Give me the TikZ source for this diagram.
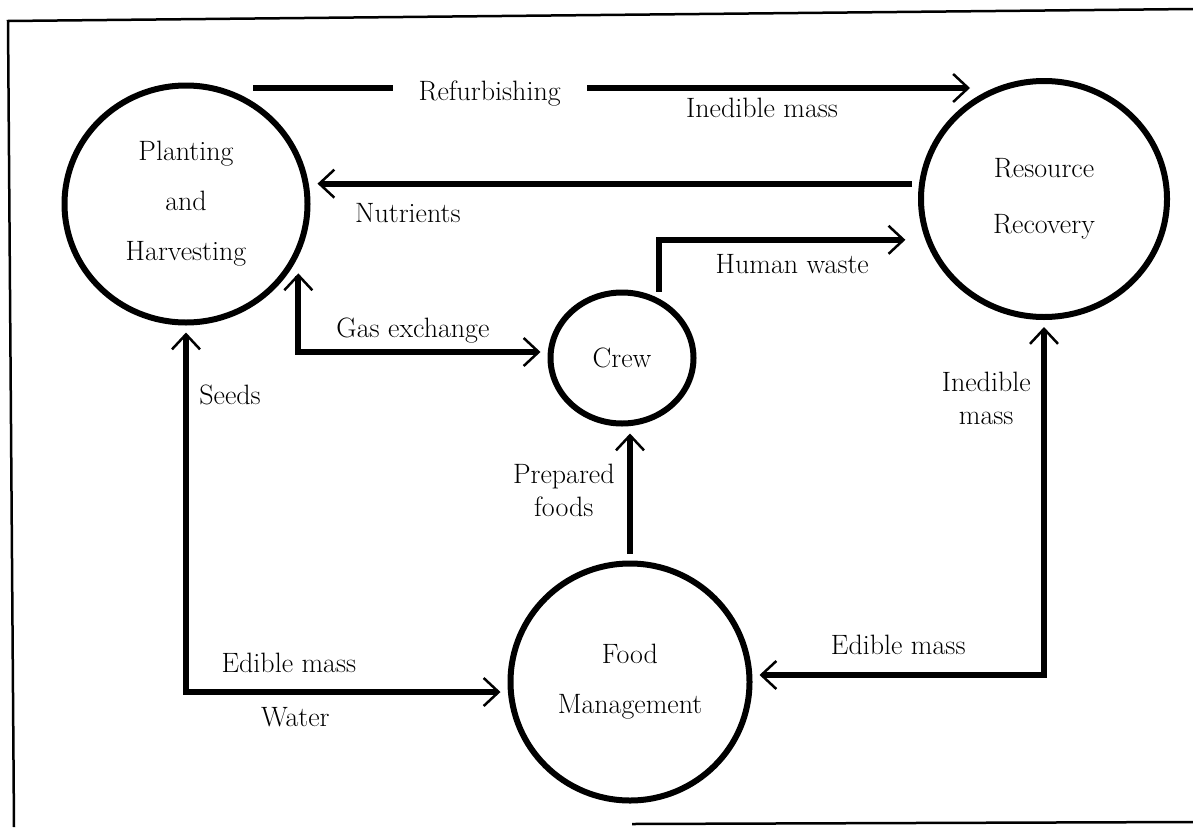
\documentclass[tikz,border=0pt]{standalone}
\usepackage{fontspec}
\usepackage{tikz}
\usetikzlibrary{arrows.meta,positioning,shapes.geometric,calc}

\begin{document}
\begin{tikzpicture}[
    x=1pt, y=-1pt,
    process/.style={ellipse, draw, line width=6pt, inner sep=0pt, align=center, font=\fontsize{28}{50}\selectfont},
    flow/.style={->, >={Straight Barb[length=15pt, width=28pt, line width=2.5pt]}, line width=6pt, shorten >=7pt, shorten <=7pt},
    tag/.style={font=\fontsize{28}{33}\selectfont, align=center}
]
    \useasboundingbox (0,0) rectangle (1193,827);
    \draw[line width=2.5pt] (14,827) -- (8,21) -- (1193,9);
    \draw[line width=2.5pt] (632,824) -- (1193,822);

    \node[process, minimum width=243pt, minimum height=237pt] (plant) at (186,204) {Planting\\and\\Harvesting};
    \node[process, minimum width=246pt, minimum height=236pt] (resource) at (1044,199) {Resource\\[6pt]Recovery};
    \node[process, minimum width=143pt, minimum height=131pt] (crew) at (622,358) {Crew};
    \node[process, minimum width=239pt, minimum height=237pt] (food) at (630,682) {Food\\Management};

    \coordinate (refa) at (253,88);
    \coordinate (refb) at (970,88);

    \draw[flow, shorten <=0pt, shorten >=0pt] (refa) -- node[tag, pos=0.33, fill=white, inner xsep=26pt, yshift=-6pt] {Refurbishing} node[tag, pos=0.71, below=4pt] {Inedible mass} (refb);
    \draw[flow] (resource.173) -- node[tag, pos=0.84, below=13pt] {Nutrients} (resource.173 -| plant.east);
    \draw[flow, <->, shorten <=17pt] (plant.-25) |- node[tag, pos=0.73, above=2pt] {Gas exchange} ([yshift=6pt]crew.west);
    \draw[flow, shorten >=20pt] (crew.58) |- node[tag, pos=0.75, below=8pt] {Human waste} (resource.199);
    \draw[flow] (food.north) -- node[tag, pos=0.52, left=9pt] {Prepared\\foods} (food.north |- crew.south);
    \draw[flow, <->] (plant.south) |- node[tag, pos=0.095, right=7pt] {Seeds} node[tag, pos=0.66, above=13pt] {Edible mass} node[tag, pos=0.67, below=9pt] {Water} ([yshift=-10pt]food.west);
    \draw[flow, <->] ([yshift=7pt]food.east) -| node[tag, pos=0.25, above=14pt] {Edible mass} node[tag, pos=0.89, left=7pt] {Inedible\\mass} (resource.south);
\end{tikzpicture}
\end{document}
